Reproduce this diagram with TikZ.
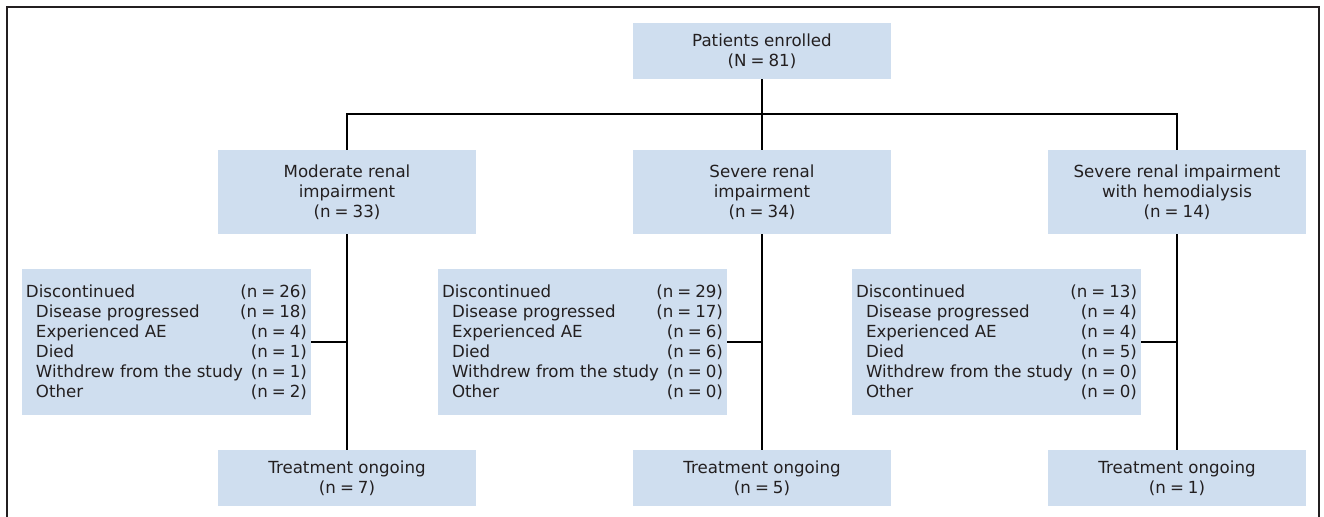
\documentclass[tikz,border=0pt]{standalone}
\usepackage{fontspec}
\setmainfont{DejaVu Sans}
\definecolor{boxblue}{RGB}{207,222,239}
\definecolor{inkgray}{RGB}{35,31,32}

% boxes of the flow chart
\tikzset{
  box/.style={fill=boxblue, inner sep=0pt, align=center, text=inkgray,
    font=\fontsize{12.5}{15}\selectfont},
  groupbox/.style={box, minimum width=193.5pt, minimum height=63pt},
  endbox/.style={box, minimum width=193.5pt, minimum height=42pt},
  stopbox/.style={box, minimum width=216.75pt, minimum height=109.5pt, align=left},
  link/.style={draw=black, line width=1.5pt}
}

% a count with tight spaces
\newcommand{\tally}[2]{{\spaceskip=3pt (#1 = #2)}}
% one line of the reasons, count pushed right
\newcommand{\stopline}[2]{\hbox to 210.75pt{#1\hfill\tally{n}{#2}}}
% all reasons for stopping
\newcommand{\reasons}[6]{%
  \stopline{Discontinued}{#1}\\
  \stopline{\hspace{7.5pt}Disease progressed}{#2}\\
  \stopline{\hspace{7.5pt}Experienced AE}{#3}\\
  \stopline{\hspace{7.5pt}Died}{#4}\\
  \stopline{\hspace{7.5pt}Withdrew from the study}{#5}\\
  \stopline{\hspace{7.5pt}Other}{#6}}

\begin{document}
\begin{tikzpicture}[x=0.75pt, y=-0.75pt]
\useasboundingbox (0,0) rectangle (1324,517);
% Frame
\draw[inkgray, line width=1pt] (7,7) rectangle (1319,522);

% Top
\node[endbox] (enrolled) at (762,51) {Patients enrolled\\\tally{N}{81}};
\coordinate (split) at (762,114);

% Groups
\node[groupbox] (moderate) at (347,192) {Moderate renal\\impairment\\\tally{n}{33}};
\node[groupbox] (severe) at (762,192) {Severe renal\\impairment\\\tally{n}{34}};
\node[groupbox] (dialysis) at (1177,192) {Severe renal impairment\\with hemodialysis\\\tally{n}{14}};

% Discontinued
\node[stopbox] (stopmod) at (166.5,342) {\reasons{26}{18}{4}{1}{1}{2}};
\node[stopbox] (stopsev) at (582.5,342) {\reasons{29}{17}{6}{6}{0}{0}};
\node[stopbox] (stopdia) at (996.5,342) {\reasons{13}{4}{4}{5}{0}{0}};

% Ongoing
\node[endbox] (ongoingmod) at (347,478) {Treatment ongoing\\\tally{n}{7}};
\node[endbox] (ongoingsev) at (762,478) {Treatment ongoing\\\tally{n}{5}};
\node[endbox] (ongoingdia) at (1177,478) {Treatment ongoing\\\tally{n}{1}};

% Lines
\draw[link] (enrolled.south) -- (severe.north);
\draw[link] (moderate.north) |- (split) -| (dialysis.north);
\draw[link] (moderate.south) -- (ongoingmod.north);
\draw[link] (severe.south) -- (ongoingsev.north);
\draw[link] (dialysis.south) -- (ongoingdia.north);
\draw[link] (stopmod.east) -- (stopmod.east -| moderate.south);
\draw[link] (stopsev.east) -- (stopsev.east -| severe.south);
\draw[link] (stopdia.east) -- (stopdia.east -| dialysis.south);
\end{tikzpicture}
\end{document}
